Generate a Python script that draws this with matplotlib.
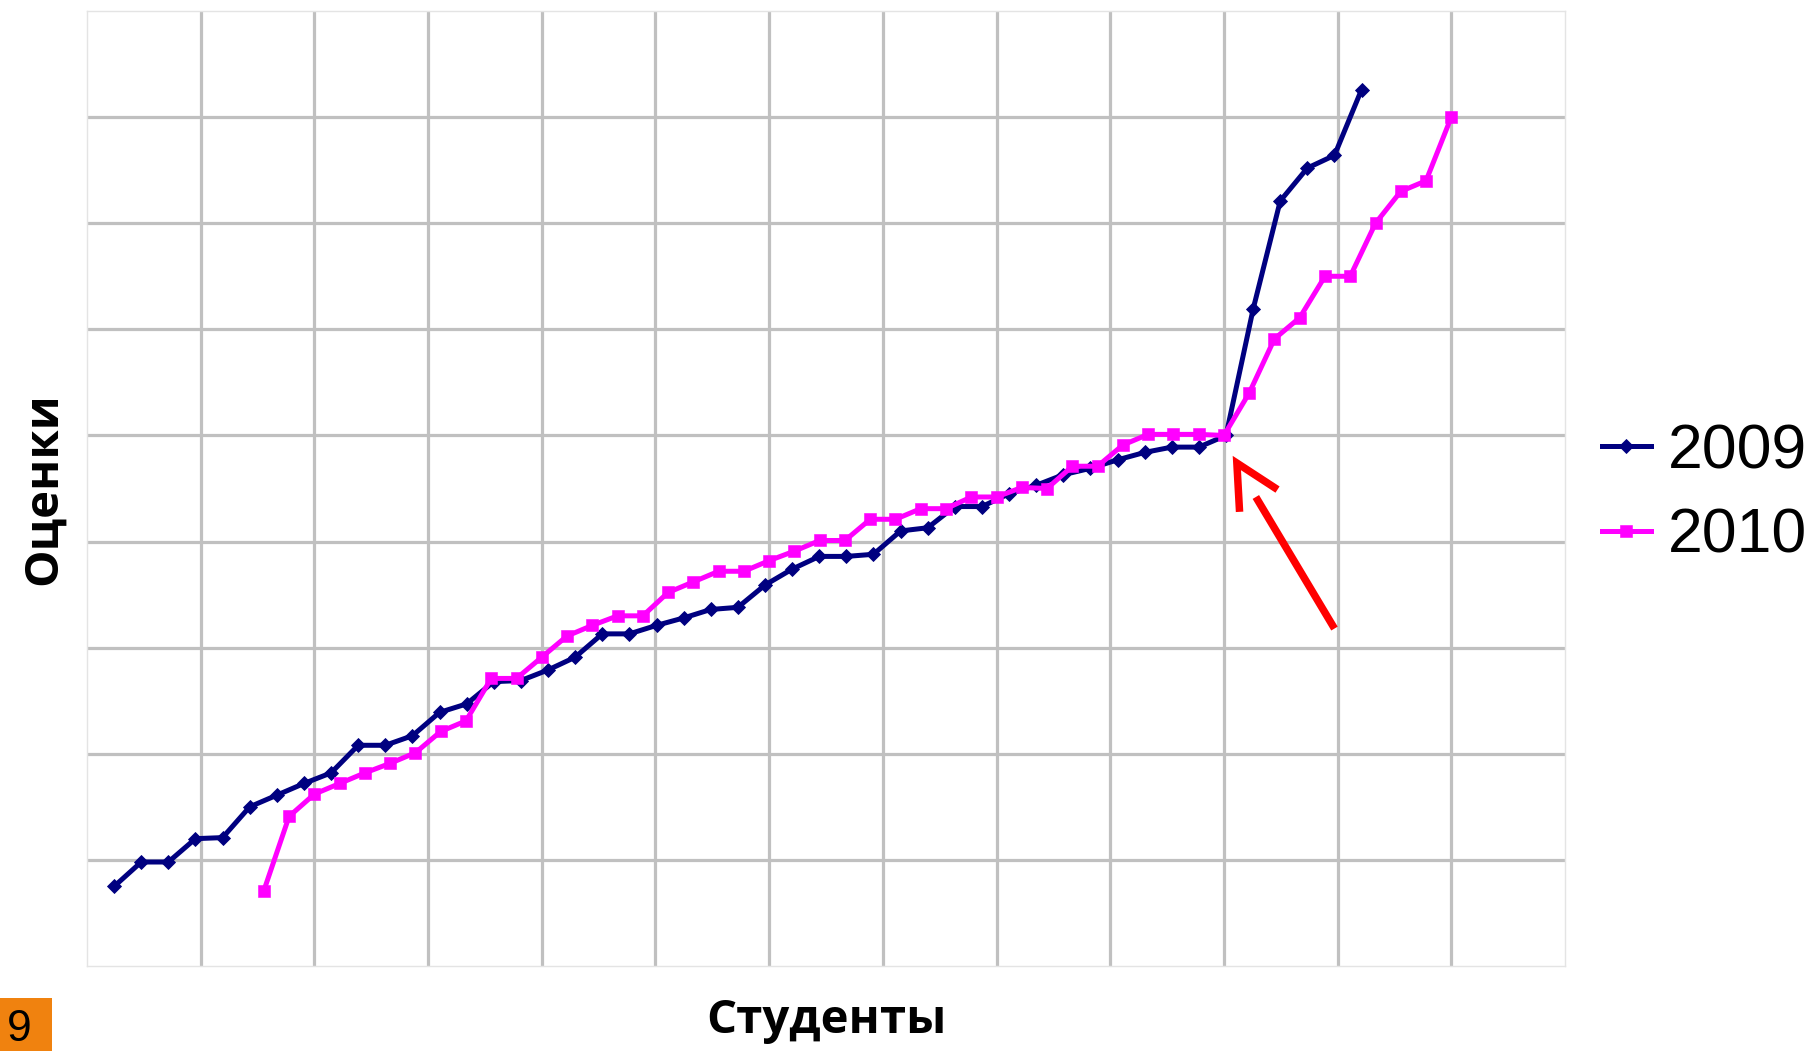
import numpy as np
import matplotlib.pyplot as plt
from matplotlib.patches import Rectangle

# ---- data (y in grid steps, the original has no tick labels)
score_2009 = [0.75, 0.98, 0.98, 1.20, 1.21, 1.50, 1.61, 1.72, 1.82, 2.08,
              2.08, 2.17, 2.39, 2.47, 2.68, 2.69, 2.79, 2.91, 3.13, 3.13,
              3.21, 3.28, 3.36, 3.38, 3.59, 3.74, 3.86, 3.86, 3.88, 4.10,
              4.13, 4.33, 4.33, 4.45, 4.53, 4.63, 4.69, 4.77, 4.84, 4.89,
              4.89, 5.00, 6.19, 7.21, 7.52, 7.64, 8.26]
score_2010 = [0.71, 1.41, 1.62, 1.72, 1.82, 1.91, 2.01, 2.21, 2.31, 2.71,
              2.71, 2.91, 3.11, 3.21, 3.30, 3.30, 3.52, 3.62, 3.72, 3.72,
              3.82, 3.91, 4.01, 4.01, 4.21, 4.21, 4.31, 4.31, 4.42, 4.42,
              4.51, 4.50, 4.71, 4.71, 4.91, 5.01, 5.01, 5.01, 5.00, 5.40,
              5.91, 6.11, 6.50, 6.50, 7.00, 7.30, 7.40, 8.00]
first_2010 = 7           # 2010 series starts at category 7 of its own axis
span_2009 = 54.5         # categories visible across the plot area
span_2010 = 58.5
years = ['2009', '2010']
xlabel = 'Студенты'
ylabel = 'Оценки'
slide_no = '9'

x_2009 = np.arange(1, len(score_2009) + 1)
x_2010 = np.arange(first_2010, first_2010 + len(score_2010))

W, H = 1820, 1051
fig = plt.figure(figsize=(W / 100, H / 100), dpi=100)
fig.patch.set_facecolor('white')

# plot area as on the slide
ax = fig.add_axes([87 / W, 1 - 966 / H, (1565 - 87) / W, (966 - 11) / H])
ax.set_xlim(0, span_2009)
ax.set_ylim(0, 9)
ax.set_xticks(np.arange(1, 13) * span_2009 / 13)
ax.set_yticks(np.arange(1, 9))
ax.grid(True, color='#c0c0c0', linewidth=2.3)
ax.set_axisbelow(True)
ax.tick_params(length=0, labelbottom=False, labelleft=False)
for s in ax.spines.values():
    s.set_color('#e4e4e4')
    s.set_linewidth(1)

# 2010 sits on its own (hidden) category axis
ax2 = ax.twiny()
ax2.set_xlim(0, span_2010)
ax2.set_xticks([])
for s in ax2.spines.values():
    s.set_visible(False)

l1, = ax.plot(x_2009, score_2009, color='#000080', lw=3.6, marker='D', ms=7.6,
              mec='#000080', mew=0.6, solid_joinstyle='round')
l2, = ax2.plot(x_2010, score_2010, color='#ff00ff', lw=3.6, marker='s', ms=8,
               mec='#ff00ff', mew=0.4, solid_joinstyle='round')

# red arrow pointing at the break point
red = '#ff0000'
ax.plot([46.0, 43.1], [3.18, 4.42], color=red, lw=5.4, solid_capstyle='butt')
ax.plot([42.5, 42.4, 43.9], [4.28, 4.74, 4.49], color=red, lw=5.4,
        solid_capstyle='butt', solid_joinstyle='miter')

# axis titles
lab_font = dict(family=['Open Sans', 'DejaVu Sans'], fontsize=34, fontweight='bold')
ax.set_xlabel(xlabel, va='baseline', **lab_font)
ax.xaxis.set_label_coords(0.5, (966 - 1033) / 955)
ax.set_ylabel(ylabel, va='center', **lab_font)
ax.yaxis.set_label_coords((43 - 87) / 1478, 0.5)

# legend
fig.legend([l1, l2], years, loc='center left', bbox_to_anchor=(1602 / W, 1 - 494 / H),
           frameon=False, borderpad=0, borderaxespad=0, handlelength=0.78,
           handletextpad=0.27, labelspacing=0.41,
           prop=dict(family=['Liberation Sans', 'DejaVu Sans'], size=45))

# slide number box
fig.patches.append(Rectangle((0, 0), 52 / W, (1051 - 998) / H, transform=fig.transFigure,
                             facecolor='#f0820f', edgecolor='none'))
fig.text(7 / W, 1 - 1041 / H, slide_no, ha='left', va='baseline', fontsize=32,
         family=['Liberation Sans', 'DejaVu Sans'], color='black')

fig.savefig('out.png', dpi=100)
